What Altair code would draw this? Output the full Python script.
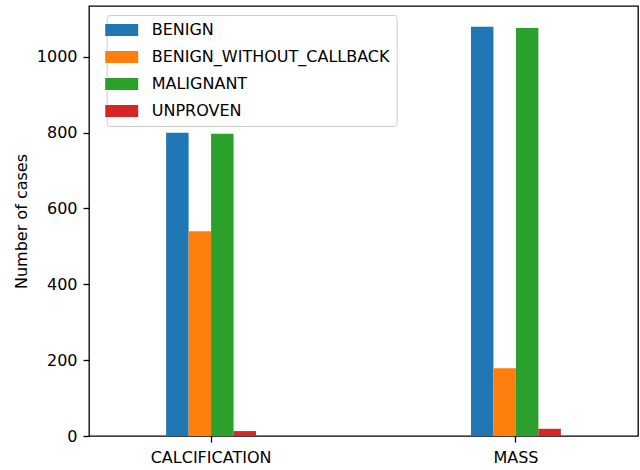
import altair as alt
import pandas as pd

# Case counts per abnormality type, split by pathology
categories = ["CALCIFICATION", "MASS"]
pathologies = ["BENIGN", "BENIGN_WITHOUT_CALLBACK", "MALIGNANT", "UNPROVEN"]
calc_counts = [800, 540, 797, 13]
mass_counts = [1079, 179, 1076, 19]
colors = ["#1f77b4", "#ff7f0e", "#2ca02c", "#d62728"]
y_ticks = [0, 200, 400, 600, 800, 1000]

rows = []
for cat, counts in zip(categories, [calc_counts, mass_counts]):
    for p, c in zip(pathologies, counts):
        rows.append({"type": cat, "pathology": p, "count": c})
df = pd.DataFrame(rows)

FONT = "DejaVu Sans"

chart = (
    alt.Chart(df)
    .mark_bar()
    .encode(
        x=alt.X(
            "type:N",
            sort=categories,
            scale=alt.Scale(paddingInner=0.705, paddingOuter=0.253),
            axis=alt.Axis(title=None, labelAngle=0, domain=False, tickSize=6,
                          tickWidth=1.3, tickColor="#000", labelPadding=7,
                          labelFontSize=16, labelColor="#000", labelFont=FONT),
        ),
        xOffset=alt.XOffset("pathology:N", sort=pathologies,
                            scale=alt.Scale(paddingInner=0, paddingOuter=0)),
        y=alt.Y(
            "count:Q",
            scale=alt.Scale(domain=[0, 1134], nice=False),
            axis=alt.Axis(title="Number of cases", values=y_ticks, format="d",
                          grid=False, domain=False, tickSize=6, tickWidth=1.3,
                          tickColor="#000", labelPadding=6, labelFontSize=16,
                          labelColor="#000", labelFont=FONT, titleFont=FONT,
                          titleFontSize=16, titleFontWeight="normal",
                          titleColor="#000", titlePadding=7),
        ),
        color=alt.Color(
            "pathology:N",
            sort=pathologies,
            scale=alt.Scale(domain=pathologies, range=colors),
            legend=alt.Legend(
                title=None, orient="none", legendX=17.7, legendY=9,
                symbolType="M-2.75,-1H2.75V1H-2.75Z", symbolSize=144,
                symbolStrokeWidth=0, symbolOpacity=1, labelOffset=22,
                labelLimit=0, labelFont=FONT, labelFontSize=16,
                labelColor="#000", rowPadding=11, padding=7,
                strokeColor="#cccccc", fillColor="rgba(255,255,255,0.8)",
                cornerRadius=3,
            ),
        ),
    )
    .properties(
        width=549,
        height=430,
        autosize=alt.AutoSizeParams(type="none"),
        padding={"left": 89, "top": 6, "right": 2, "bottom": 34},
    )
    .configure_view(stroke="#000", strokeWidth=1.3)
)

chart.save("out.html", embed_options={"renderer": "svg", "actions": False})
